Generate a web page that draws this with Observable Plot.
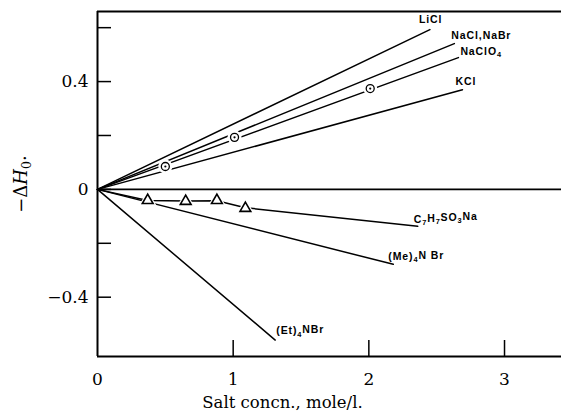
<!DOCTYPE html>
<html><head><meta charset="utf-8">
<script src="https://cdn.jsdelivr.net/npm/d3@7"></script>
<script src="https://cdn.jsdelivr.net/npm/@observablehq/plot@0.6"></script>
<style>body{margin:0;background:#fff}</style>
</head><body><div id="chart"></div>
<script>
// ---- data ----
const seriesNames = ["LiCl", "NaCl,NaBr", "NaClO₄", "KCl", "C₇H₇SO₃Na", "(Me)₄N Br", "(Et)₄NBr"];
const seriesX = [
  [0, 2.45],
  [0, 2.63],
  [0, 2.66],
  [0, 2.69],
  [0, 0.37, 0.65, 0.88, 1.09, 2.36],
  [0, 2.18],
  [0, 1.31]
];
const seriesY = [
  [0, 0.593],
  [0, 0.541],
  [0, 0.489],
  [0, 0.370],
  [0, -0.041, -0.043, -0.042, -0.068, -0.137],
  [0, -0.278],
  [0, -0.559]
];
const circleX = [0.50, 1.01, 2.01];
const circleY = [0.085, 0.193, 0.374];
const triangleX = [0.37, 0.65, 0.88, 1.09];
const triangleY = [-0.041, -0.044, -0.041, -0.070];
const xTicks = [0, 1, 2, 3];
const yTicks = [-0.4, -0.2, 0, 0.2, 0.4, 0.6];
const yTickLabels = [-0.4, 0, 0.4];
const xDomain = [0, 3.42];
const yDomain = [-0.62, 0.66];
const xLabel = "Salt concn., mole/l.";
const yLabel = "−ΔH₀.";

// ---- build tables ----
const lines = [];
seriesNames.forEach((name, i) => seriesX[i].forEach((x, j) => lines.push({name, x, y: seriesY[i][j]})));
const ends = seriesNames.map((name, i) => ({name, x: seriesX[i].at(-1), y: seriesY[i].at(-1)}));
const circles = circleX.map((x, i) => ({x, y: circleY[i]}));
const triangles = triangleX.map((x, i) => ({x, y: triangleY[i]}));

// label placement (style)
const labelOffsets = {
  "LiCl": [-11, -10],
  "NaCl,NaBr": [-3, -8],
  "NaClO₄": [2, -6],
  "KCl": [-7, -8],
  "C₇H₇SO₃Na": [-4, -7],
  "(Me)₄N Br": [-5, -8],
  "(Et)₄NBr": [1, -9]
};
const labelMarks = ends.map(d => Plot.text([d], {
  x: "x", y: "y", text: "name",
  dx: labelOffsets[d.name][0], dy: labelOffsets[d.name][1],
  textAnchor: "start", lineAnchor: "middle",
  fontFamily: "Liberation Sans", fontWeight: "bold", fontSize: 10.5,
  fill: "black"
}));

const fmtY = d => d === 0 ? "0" : d.toFixed(1).replace("-", "−");
const fmtX = d => String(d);

const plot = Plot.plot({
  width: 561, height: 415,
  marginLeft: 97, marginRight: 0, marginTop: 11, marginBottom: 59,
  x: {domain: xDomain},
  y: {domain: yDomain},
  style: {fontFamily: "DejaVu Serif", background: "white", color: "black", overflow: "visible"},
  marks: [
    Plot.ruleY([0], {stroke: "black", strokeWidth: 1.6}),
    Plot.line(lines, {x: "x", y: "y", z: "name", stroke: "black", strokeWidth: 1.5}),
    Plot.dot(circles, {x: "x", y: "y", r: 7, fill: "white", stroke: "none"}),
    Plot.dot(circles, {x: "x", y: "y", r: 4, fill: "white", stroke: "black", strokeWidth: 1.3}),
    Plot.dot(circles, {x: "x", y: "y", r: 1.1, fill: "black", stroke: "none"}),
    Plot.dot(triangles, {x: "x", y: "y", symbol: "triangle", r: 6.5, fill: "white", stroke: "none"}),
    Plot.dot(triangles, {x: "x", y: "y", symbol: "triangle", r: 4, fill: "white", stroke: "black", strokeWidth: 1.6}),
    ...labelMarks,
    Plot.ruleX([xDomain[0]], {stroke: "black", strokeWidth: 2}),
    Plot.ruleY(yDomain, {stroke: "black", strokeWidth: 2}),
    Plot.axisY(yTicks, {tickSize: -14, fill: "none", label: null, strokeWidth: 1.5}),
    Plot.axisY(yTickLabels, {tickSize: 0, tickPadding: 9, stroke: "none", label: null, tickFormat: fmtY, fontSize: 17}),
    Plot.axisX(xTicks.filter(d => d > 0), {tickSize: -16, fill: "none", label: null, strokeWidth: 1.5}),
    Plot.axisX(xTicks, {tickSize: 0, tickPadding: 16, stroke: "none", label: null, tickFormat: fmtX, fontSize: 17}),
    Plot.text([xLabel], {frameAnchor: "bottom", dx: -47, dy: 46, textAnchor: "middle", lineAnchor: "middle", fontSize: 16.5, fill: "black"}),
    Plot.text([yLabel], {frameAnchor: "left", dx: -76, rotate: -90, textAnchor: "middle", lineAnchor: "middle", fontSize: 18, fill: "black"})
  ]
});
document.getElementById("chart").appendChild(plot);

// render unicode subscripts as shifted tspans (real text); letter-spaced curve labels
const ns = "http://www.w3.org/2000/svg";
const subMap = {"₀": "0", "₁": "1", "₂": "2", "₃": "3", "₄": "4", "₅": "5", "₆": "6", "₇": "7", "₈": "8", "₉": "9"};
plot.querySelectorAll("text").forEach(t => {
  const s = t.textContent;
  if (seriesNames.includes(s)) t.style.letterSpacing = "0.9px";
  if (!/[₀-₉]/.test(s)) return;
  const isY = s === yLabel;
  t.textContent = "";
  let shifted = false;
  for (const ch of s) {
    const ts = document.createElementNS(ns, "tspan");
    if (subMap[ch]) {
      ts.textContent = subMap[ch];
      ts.setAttribute("font-size", "0.7em");
      if (!shifted) { ts.setAttribute("dy", "0.3em"); shifted = true; }
    } else {
      ts.textContent = ch;
      if (shifted) { ts.setAttribute("dy", "-0.3em"); shifted = false; }
      if (isY && ch === "H") ts.setAttribute("font-style", "italic");
    }
    t.appendChild(ts);
  }
});
</script>
</body></html>
